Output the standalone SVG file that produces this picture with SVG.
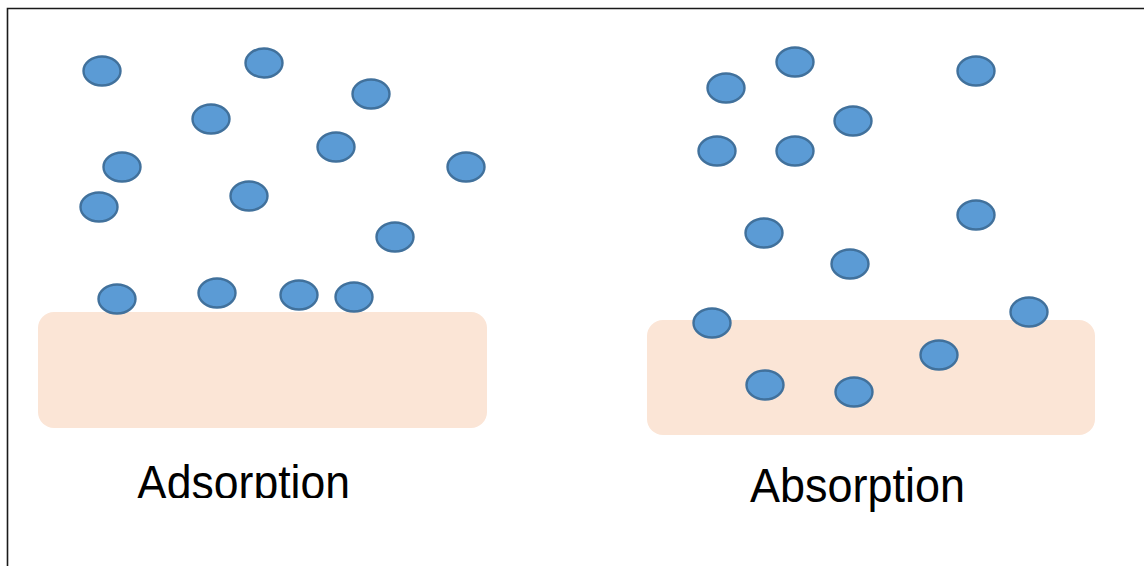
<svg xmlns="http://www.w3.org/2000/svg" width="1144" height="566" viewBox="0 0 1144 566">
  <defs>
    <style>
      .frame { stroke: #1a1a1a; stroke-width: 1.6; fill: none; }
      .base { fill: #FBE5D6; }
      .p { fill: #5B9BD5; stroke: #41719C; stroke-width: 2.4; }
      .lbl { font-family: "Liberation Sans", Arial, sans-serif; font-size: 48px; fill: #000; }
    </style>
    <clipPath id="cutLeft">
      <rect x="0" y="0" width="572" height="498"/>
    </clipPath>
  </defs>
  <rect width="1144" height="566" fill="#fff"/>
  <!-- outer frame: top and left edges -->
  <path class="frame" d="M7.5 566 V8.5 H1144"/>

  <!-- left panel: particles held on the surface -->
  <g id="adsorption">
    <rect class="base" x="38" y="312" width="449" height="116" rx="16"/>
    <ellipse class="p" cx="102" cy="71" rx="18.5" ry="14.5"/>
    <ellipse class="p" cx="264" cy="63" rx="18.5" ry="14.5"/>
    <ellipse class="p" cx="371" cy="94" rx="18.5" ry="14.5"/>
    <ellipse class="p" cx="211" cy="119" rx="18.5" ry="14.5"/>
    <ellipse class="p" cx="122" cy="167" rx="18.5" ry="14.5"/>
    <ellipse class="p" cx="336" cy="147" rx="18.5" ry="14.5"/>
    <ellipse class="p" cx="466" cy="167" rx="18.5" ry="14.5"/>
    <ellipse class="p" cx="99" cy="207" rx="18.5" ry="14.5"/>
    <ellipse class="p" cx="249" cy="196" rx="18.5" ry="14.5"/>
    <ellipse class="p" cx="395" cy="237" rx="18.5" ry="14.5"/>
    <ellipse class="p" cx="117" cy="299" rx="18.5" ry="14.5"/>
    <ellipse class="p" cx="217" cy="293" rx="18.5" ry="14.5"/>
    <ellipse class="p" cx="299" cy="295" rx="18.5" ry="14.5"/>
    <ellipse class="p" cx="354" cy="297" rx="18.5" ry="14.5"/>
    <text class="lbl" x="137" y="499" textLength="213" lengthAdjust="spacingAndGlyphs" clip-path="url(#cutLeft)">Adsorption</text>
  </g>

  <!-- right panel: particles taken into the bulk -->
  <g id="absorption">
    <rect class="base" x="647" y="320" width="448" height="115" rx="16"/>
    <ellipse class="p" cx="726" cy="88" rx="18.5" ry="14.5"/>
    <ellipse class="p" cx="795" cy="62" rx="18.5" ry="14.5"/>
    <ellipse class="p" cx="976" cy="71" rx="18.5" ry="14.5"/>
    <ellipse class="p" cx="853" cy="121" rx="18.5" ry="14.5"/>
    <ellipse class="p" cx="717" cy="151" rx="18.5" ry="14.5"/>
    <ellipse class="p" cx="795" cy="151" rx="18.5" ry="14.5"/>
    <ellipse class="p" cx="764" cy="233" rx="18.5" ry="14.5"/>
    <ellipse class="p" cx="976" cy="215" rx="18.5" ry="14.5"/>
    <ellipse class="p" cx="850" cy="264" rx="18.5" ry="14.5"/>
    <ellipse class="p" cx="712" cy="323" rx="18.5" ry="14.5"/>
    <ellipse class="p" cx="1029" cy="312" rx="18.5" ry="14.5"/>
    <ellipse class="p" cx="939" cy="355" rx="18.5" ry="14.5"/>
    <ellipse class="p" cx="765" cy="385" rx="18.5" ry="14.5"/>
    <ellipse class="p" cx="854" cy="392" rx="18.5" ry="14.5"/>
    <text class="lbl" x="750" y="502" textLength="215" lengthAdjust="spacingAndGlyphs">Absorption</text>
  </g>
</svg>
